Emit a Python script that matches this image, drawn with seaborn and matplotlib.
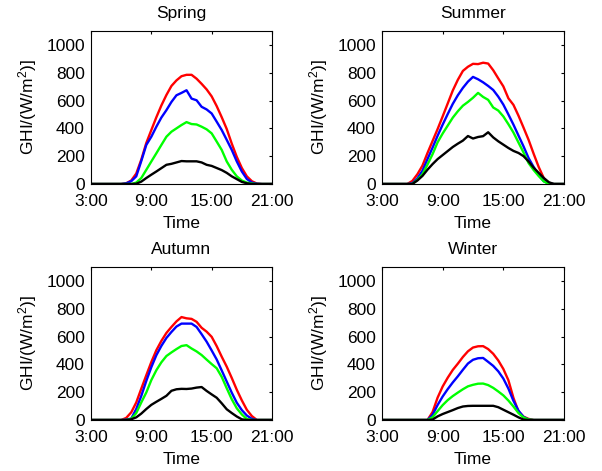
import numpy as np
import pandas as pd
import matplotlib
matplotlib.use("Agg")
import matplotlib.pyplot as plt
import seaborn as sns

# ---------------- data ----------------
time_h = [3.0, 3.5, 4.0, 4.5, 5.0, 5.5, 6.0, 6.5, 7.0, 7.5, 8.0, 8.5, 9.0, 9.5,
          10.0, 10.5, 11.0, 11.5, 12.0, 12.5, 13.0, 13.5, 14.0, 14.5, 15.0, 15.5,
          16.0, 16.5, 17.0, 17.5, 18.0, 18.5, 19.0, 19.5, 20.0, 20.5, 21.0]

seasons = ["Spring", "Summer", "Autumn", "Winter"]
series_names = ["red", "blue", "green", "black"]
series_colors = ["#ff0000", "#0000ff", "#00ff00", "#000000"]

spring_red = [0, 0, 0, 0, 0, 0, 0, 5, 25, 75, 175, 295, 388, 480, 565, 640, 705, 745, 775, 785,
              785, 757, 720, 680, 630, 560, 480, 395, 290, 195, 115, 55, 20, 3, 0, 0, 0]
spring_blue = [0, 0, 0, 0, 0, 0, 0, 5, 20, 55, 165, 281, 340, 412, 478, 531, 590, 638, 655, 674,
               614, 602, 555, 536, 507, 448, 388, 317, 245, 162, 90, 36, 10, 2, 0, 0, 0]
spring_green = [0, 0, 0, 0, 0, 0, 0, 0, 0, 10, 43, 102, 162, 221, 281, 340, 376, 400, 424, 445,
                431, 428, 412, 393, 364, 305, 245, 162, 102, 55, 25, 10, 3, 0, 0, 0, 0]
spring_black = [0, 0, 0, 0, 0, 0, 0, 0, 0, 2, 17, 43, 67, 90, 114, 138, 145, 155, 165, 163,
                163, 163, 155, 138, 130, 115, 100, 80, 55, 35, 15, 5, 0, 0, 0, 0, 0]

summer_red = [0, 0, 0, 0, 0, 0, 22, 70, 132, 223, 309, 395, 486, 579, 672, 749, 813, 843, 864, 862,
              872, 866, 818, 759, 702, 616, 569, 491, 405, 317, 217, 122, 43, 5, 0, 0, 0]
summer_blue = [0, 0, 0, 0, 0, 0, 5, 40, 95, 179, 261, 347, 427, 503, 576, 638, 691, 736, 770, 753,
               731, 705, 676, 628, 571, 500, 427, 348, 270, 186, 122, 65, 20, 3, 0, 0, 0]
summer_green = [0, 0, 0, 0, 0, 0, 0, 30, 70, 140, 214, 300, 363, 420, 477, 523, 563, 590, 620, 655,
                626, 605, 550, 528, 486, 430, 370, 298, 226, 150, 100, 57, 19, 0, 0, 0, 0]
summer_black = [0, 0, 0, 0, 0, 0, 0, 25, 58, 103, 143, 179, 208, 237, 266, 290, 312, 345, 327, 338,
                344, 372, 335, 307, 283, 259, 238, 223, 200, 162, 117, 80, 43, 13, 0, 0, 0]

autumn_red = [0, 0, 0, 0, 0, 0, 0, 15, 55, 126, 225, 322, 417, 502, 569, 626, 669, 709, 740, 731,
              727, 706, 663, 635, 598, 531, 455, 383, 302, 217, 141, 73, 28, 0, 0, 0, 0]
autumn_blue = [0, 0, 0, 0, 0, 0, 0, 3, 10, 79, 173, 281, 380, 466, 533, 590, 633, 672, 693, 693,
               693, 669, 617, 563, 500, 435, 356, 276, 196, 124, 71, 32, 8, 0, 0, 0, 0]
autumn_green = [0, 0, 0, 0, 0, 0, 0, 0, 8, 50, 126, 198, 287, 358, 415, 460, 486, 510, 532, 538,
                514, 493, 467, 434, 402, 372, 310, 228, 149, 84, 40, 7, 0, 0, 0, 0, 0]
autumn_black = [0, 0, 0, 0, 0, 0, 0, 0, 5, 19, 46, 79, 109, 131, 152, 174, 210, 221, 224, 223,
                226, 233, 237, 209, 184, 160, 120, 77, 50, 25, 5, 0, 0, 0, 0, 0, 0]

winter_red = [0, 0, 0, 0, 0, 0, 0, 0, 0, 0, 57, 161, 241, 304, 360, 405, 453, 494, 521, 530,
              531, 510, 476, 428, 367, 286, 159, 61, 24, 8, 0, 0, 0, 0, 0, 0, 0]
winter_blue = [0, 0, 0, 0, 0, 0, 0, 0, 0, 0, 37, 108, 169, 222, 270, 314, 361, 406, 433, 444,
               446, 418, 389, 350, 298, 226, 138, 67, 22, 3, 0, 0, 0, 0, 0, 0, 0]
winter_green = [0, 0, 0, 0, 0, 0, 0, 0, 0, 0, 20, 64, 107, 143, 172, 197, 221, 242, 253, 261,
                262, 251, 231, 205, 177, 140, 97, 50, 18, 3, 0, 0, 0, 0, 0, 0, 0]
winter_black = [0, 0, 0, 0, 0, 0, 0, 0, 0, 0, 3, 26, 43, 57, 71, 86, 97, 101, 102, 102,
                102, 102, 102, 92, 74, 56, 38, 19, 3, 0, 0, 0, 0, 0, 0, 0, 0]

season_data = {
    "Spring": [spring_red, spring_blue, spring_green, spring_black],
    "Summer": [summer_red, summer_blue, summer_green, summer_black],
    "Autumn": [autumn_red, autumn_blue, autumn_green, autumn_black],
    "Winter": [winter_red, winter_blue, winter_green, winter_black],
}

x_ticks = [3, 9, 15, 21]
x_tick_labels = ["3:00", "9:00", "15:00", "21:00"]
y_ticks = [0, 200, 400, 600, 800, 1000]

# ---------------- style ----------------
sns.set_style("white")
plt.rcParams["font.family"] = ["Liberation Sans", "DejaVu Sans"]
plt.rcParams["font.size"] = 12.5
plt.rcParams["text.color"] = "black"
plt.rcParams["axes.labelcolor"] = "black"
plt.rcParams["xtick.color"] = "black"
plt.rcParams["ytick.color"] = "black"
plt.rcParams["mathtext.fontset"] = "custom"
plt.rcParams["mathtext.rm"] = "Liberation Sans"
plt.rcParams["mathtext.it"] = "Liberation Sans:italic"
plt.rcParams["mathtext.default"] = "regular"

W, H = 602, 471
fig = plt.figure(figsize=(W / 100, H / 100), dpi=100)

# axes boxes in pixels: left, top, width, height
boxes = {
    "Spring": (91, 31, 181, 153),
    "Summer": (382, 31, 182, 153),
    "Autumn": (91, 267, 181, 153),
    "Winter": (382, 267, 182, 153),
}

for season in seasons:
    l, t, w, h = boxes[season]
    ax = fig.add_axes([l / W, 1 - (t + h) / H, w / W, h / H])
    rows = []
    for name, vals in zip(series_names, season_data[season]):
        for tt, v in zip(time_h, vals):
            rows.append({"time": tt, "GHI": v, "series": name})
    df = pd.DataFrame(rows)
    sns.lineplot(data=df, x="time", y="GHI", hue="series", hue_order=series_names,
                 palette=series_colors, estimator=None, legend=False,
                 linewidth=1.7, ax=ax)
    ax.set_xlim(3, 21)
    ax.set_ylim(0, 1100)
    ax.set_xticks(x_ticks)
    ax.set_xticklabels(x_tick_labels)
    ax.set_yticks(y_ticks)
    ax.tick_params(direction="in", top=True, right=True, length=2.5, width=0.8,
                   colors="black", labelcolor="black", labelsize=12.5)
    ax.tick_params(axis="x", pad=7)
    ax.tick_params(axis="y", pad=4.5)
    for sp in ax.spines.values():
        sp.set_visible(True)
        sp.set_color("black")
        sp.set_linewidth(0.8)
    ax.set_title(season, fontsize=12.5, pad=9.5, color="black")
    ax.set_xlabel("Time", fontsize=12.5, labelpad=5.5, color="black")
    ax.set_ylabel(r"GHI/(W/m$^2$)]", fontsize=12.5, labelpad=5, color="black")

fig.savefig("out.png", dpi=100)
